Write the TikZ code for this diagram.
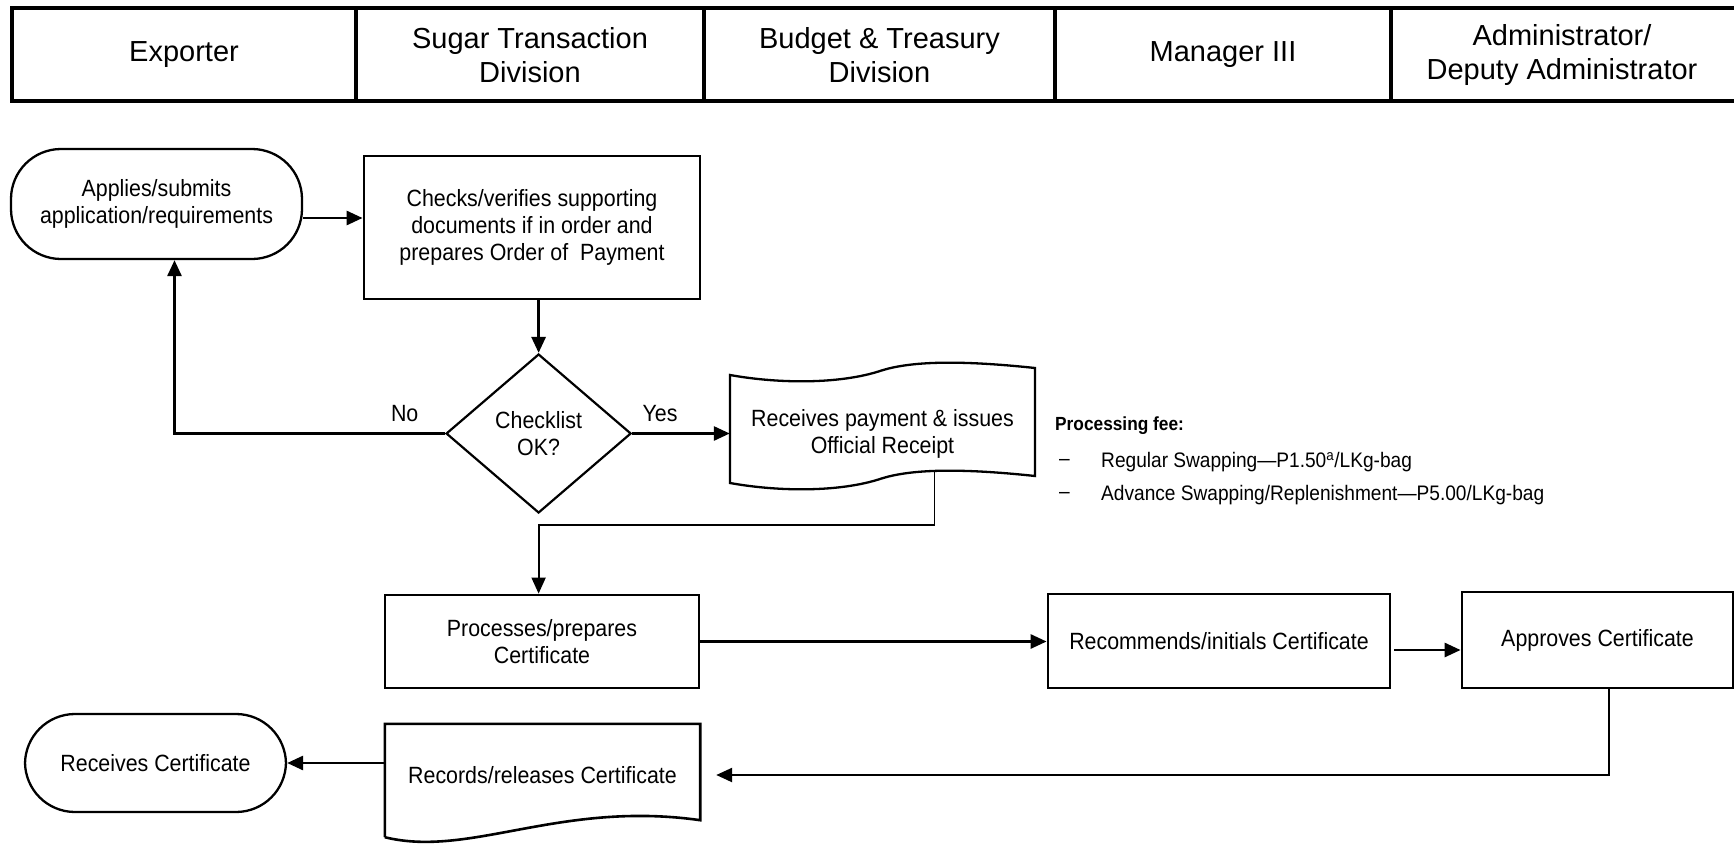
\documentclass[tikz,border=0pt]{standalone}
\usepackage{fontspec}
\setmainfont{Liberation Sans}
\newfontfamily\narrowfont[FakeStretch=0.91]{Liberation Sans}
\usetikzlibrary{arrows.meta,shapes.geometric,calc}
\begin{document}
\begin{tikzpicture}[x=1pt,y=-1pt,
  hdrtext/.style={align=center,inner sep=0pt,font=\fontsize{29}{34}\selectfont},
  hdrline/.style={line width=3.6pt},
  box/.style={draw,line width=2.8pt,inner sep=0pt,align=center,font=\narrowfont\fontsize{23.5}{27}\selectfont},
  term/.style={box,line width=2.3pt,rounded corners=50pt},
  doctext/.style={inner sep=0pt,align=center,font=\narrowfont\fontsize{23.5}{27}\selectfont},
  docline/.style={line width=2.3pt},
  lbl/.style={inner sep=0pt,font=\narrowfont\fontsize{23.5}{27}\selectfont},
  fee/.style={inner sep=0pt,anchor=west,font=\narrowfont\fontsize{21}{25}\selectfont},
  tip/.style={-{Triangle[length=16pt,width=14pt]}},
  arr/.style={line width=2.8pt,tip},
  thinarr/.style={line width=1.8pt,tip},
]
\useasboundingbox (0,0) rectangle (1734,843);
% header table
\draw[hdrline] (1740,8) -- (12,8) -- (12,101) -- (1740,101);
\foreach \x in {356,704,1055,1391} \draw[hdrline] (\x,8) -- (\x,101);
\node[hdrtext] (h1) at (184,55) {Exporter};
\node[hdrtext] (h2) at (530,55) {Sugar Transaction\\Division};
\node[hdrtext] (h3) at (879.5,55) {Budget \& Treasury\\Division};
\node[hdrtext] (h4) at (1223,55) {Manager III};
\node[hdrtext] (h5) at (1562,55) {Administrator/\\Deputy Administrator};

% nodes
\node[term, minimum width=291pt, minimum height=110pt] (A) at (156.5,204) {Applies/submits\\application/requirements};
\node[box, minimum width=336pt, minimum height=143pt] (B) at (532,227.5) {Checks/verifies supporting\\documents if in order and\\prepares Order of\ \ Payment};
\node[box, diamond, line width=2.2pt, minimum width=185pt, minimum height=159pt] (C) at (538.6,433.5) {Checklist\\OK?};
\node[doctext, minimum width=305pt, minimum height=108pt] (D) at (882.5,434) {Receives payment \& issues\\Official Receipt};
\draw[docline] (730,375) .. controls (780,384) and (840,384) .. (880,371) .. controls (910,361) and (960,360) .. (1035,368)
  -- (1035,476) .. controls (960,468) and (910,469) .. coordinate[pos=0.54] (Dout) (880,479) .. controls (840,492) and (780,492) .. (730,483) -- cycle;
\node[box, minimum width=314pt, minimum height=93pt] (E) at (542,641.5) {Processes/prepares\\Certificate};
\node[box, minimum width=342pt, minimum height=94pt] (F) at (1219,641) {Recommends/initials Certificate};
\node[box, minimum width=271pt, minimum height=96pt] (G) at (1597.5,640) {Approves Certificate};
\node[doctext, minimum width=315pt, minimum height=102pt] (H) at (542.5,775) {Records/releases Certificate};
\draw[line width=2.6pt] (H.south west) ++(0,11) -- (H.north west) -- (H.north east) -- ($(H.south east)+(0,-6)$)
  .. controls ($(H.south west)+(175,-26)$) and ($(H.south west)+(85,32)$) .. ($(H.south west)+(0,11)$);
\node[term, minimum width=261pt, minimum height=98pt] (I) at (155.5,763) {Receives Certificate};

% labels
\node[lbl] (no) at (404.7,413.6) {No};
\node[lbl] (yes) at (660,413.6) {Yes};
\node[inner sep=0pt,anchor=west,font=\narrowfont\bfseries\fontsize{19}{22}\selectfont] (pf) at (1055,426) {Processing fee:};
\node[fee] (d1) at (1059,462) {\textendash};
\node[fee] (t1) at (1101,462) {Regular Swapping\textemdash P1.50\textsuperscript{a}/LKg-bag};
\node[fee] (d2) at (1059,495) {\textendash};
\node[fee] (t2) at (1101,495) {Advance Swapping/Replenishment\textemdash P5.00/LKg-bag};

% connectors
\draw[arr] (A.east) ++(0,14) coordinate (a1) -- (a1 -| B.west);
\draw[arr] (C.north |- B.south) -- (C.north);
\draw[arr] (C.west) -| ([xshift=18pt]A.south);
\draw[arr] (C.east) -- (C.east -| D.west);
\draw[thinarr] (Dout) -- ++(0,54) -| (E.north -| C.south);
\draw[arr] (E.east) -- (E.east -| F.west);
\draw[arr] ([yshift=-9pt]F.east) ++(3,0) coordinate (f1) -- (f1 -| G.west);
\draw[line width=2.4pt,tip,shorten >=16pt] ([xshift=11.5pt]G.south) |- (H.east);
\draw[arr] (I.east -| H.west) -- (I.east);
\end{tikzpicture}
\end{document}
